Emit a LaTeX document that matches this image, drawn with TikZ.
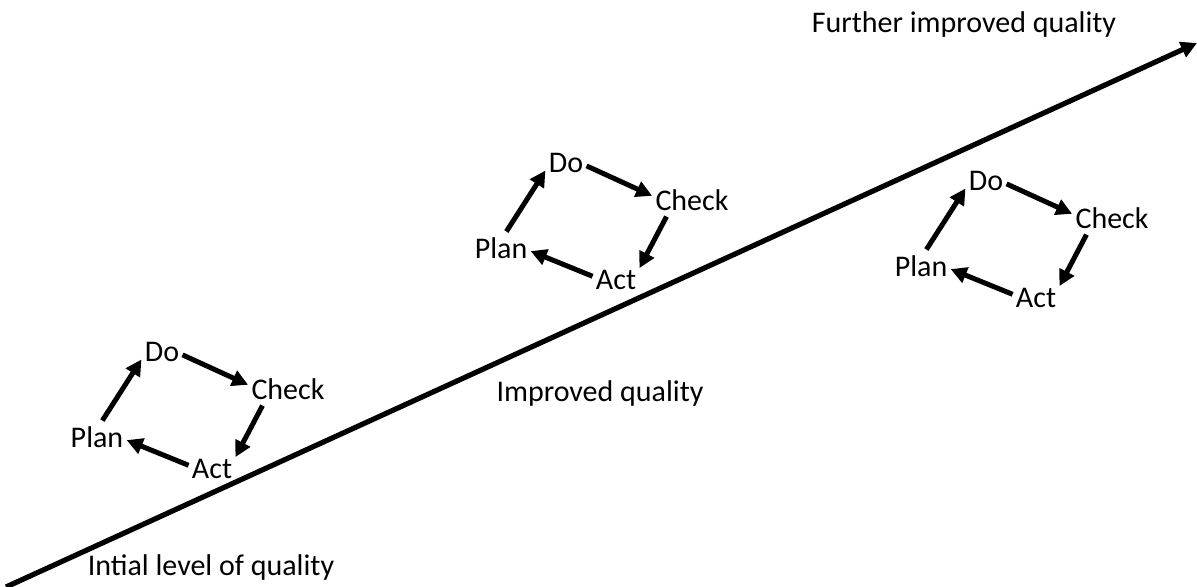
\documentclass[tikz,border=0pt]{standalone}
\usepackage{fontspec}
\setmainfont{Carlito}
\usetikzlibrary{arrows.meta}
\begin{document}
\begin{tikzpicture}[x=0.5pt,y=-0.5pt,>={Triangle[length=8pt,width=8pt]},
		lbl/.style={font=\fontsize{15}{18}\selectfont,inner sep=1.5pt},
		pdca/.style={->,line width=2.5pt}]
			\useasboundingbox (0,0) rectangle (1197,587);
			% rising quality line
			\coordinate (lo) at (6,587);
			\coordinate (hi) at (1197,43);
			\draw[->,line width=2.6pt] (lo)--(hi);
			\node[lbl,anchor=base] (further) at (964,33) {Further improved quality};
			\node[lbl,anchor=base] (improved) at (600,401) {Improved quality};
			\node[lbl,anchor=base] (initial) at (211,575) {Intial level of quality};
			% the three cycles
			\foreach \dx/\dy/\n in {-404/189/1,0/0/2,420/18/3}{
				\begin{scope}[shift={(\dx,\dy)}]
					\node[lbl] (plan\n) at (501,248) {Plan};
					\node[lbl] (do\n) at (566,163) {Do};
					\node[lbl] (check\n) at (692,200) {Check};
					\node[lbl] (act\n) at (616,280) {Act};
					\draw[pdca,shorten <=1.5pt] (plan\n.75)--(do\n.200);
					\draw[pdca] (do\n.-8)--(check\n.174);
					\draw[pdca,shorten <=1.5pt] (check\n.210)--(act\n.27);
					\draw[pdca] (act\n.171)--(plan\n.-6);
				\end{scope}
			}
		\end{tikzpicture}
\end{document}
